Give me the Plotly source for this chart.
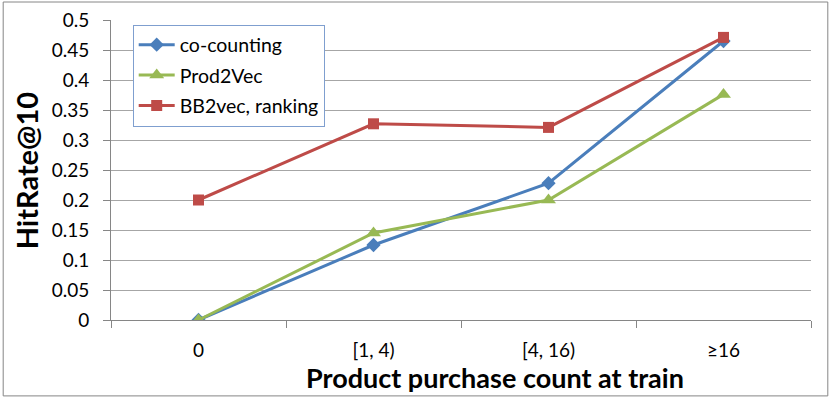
import plotly.graph_objects as go

# categories on x axis
buckets = ['0', '[1, 4)', '[4, 16)', '≥16']

# HitRate@10 per method
co_counting = [0.0, 0.125, 0.228, 0.465]
prod2vec = [0.0, 0.145, 0.200, 0.376]
bb2vec = [0.200, 0.327, 0.321, 0.471]

font_name = "Lato, 'Open Sans', sans-serif"

fig = go.Figure()
fig.add_trace(go.Scatter(x=buckets, y=co_counting, name='co-counting', mode='lines+markers',
                         legendgroup='a',
                         line=dict(color='#4A7EBB', width=3),
                         marker=dict(symbol='diamond', size=11, color='#4A7EBB')))
fig.add_trace(go.Scatter(x=buckets, y=prod2vec, name='Prod2Vec', mode='lines+markers',
                         legendgroup='b',
                         line=dict(color='#98B954', width=3),
                         marker=dict(symbol='triangle-up', size=13, color='#98B954')))
fig.add_trace(go.Scatter(x=buckets, y=bb2vec, name='BB2vec, ranking', mode='lines+markers',
                         legendgroup='c',
                         line=dict(color='#BE4B48', width=3),
                         marker=dict(symbol='square', size=11, color='#BE4B48')))

fig.update_layout(
    width=831, height=398,
    margin=dict(l=111, r=20, t=20, b=78),
    paper_bgcolor='white', plot_bgcolor='white',
    font=dict(family=font_name, size=19, color='black'),
    showlegend=True,
    legend=dict(x=0.031, y=0.985, xanchor='left', yanchor='top',
                bordercolor='#7F9FCF', borderwidth=1, bgcolor='white',
                font=dict(size=19.5), traceorder='grouped', tracegroupgap=2,
                itemwidth=36),
)

fig.update_xaxes(type='category', range=[-0.5, 3.5], tickson='boundaries', ticks='outside',
                 ticklen=7, tickcolor='#868686', showline=True, linecolor='#868686',
                 linewidth=1, showgrid=False, ticklabelstandoff=13, automargin=False)
fig.update_yaxes(range=[0, 0.5], dtick=0.05, ticks='outside', ticklen=7, tickcolor='#868686',
                 showline=True, linecolor='#868686', showgrid=True, gridcolor='#A6A6A6',
                 gridwidth=1, zeroline=False, ticklabelstandoff=10, automargin=False)

fig.add_annotation(text='<b>HitRate@10</b>', xref='paper', yref='paper',
                   x=-0.121, y=0.5, xanchor='center', yanchor='middle', textangle=-90,
                   showarrow=False, font=dict(size=29))
fig.add_annotation(text='<b>Product purchase count at train</b>', xref='paper', yref='paper',
                   x=0.549, y=-0.19, xanchor='center', yanchor='middle', showarrow=False,
                   font=dict(size=27))

# outer chart border
fig.add_shape(type='rect', xref='paper', yref='paper', x0=-0.154, x1=1.024, y0=-0.253, y1=1.06,
              line=dict(color='#868686', width=1), layer='below')

# drop the browser's default page margin so the figure sits at the top-left corner
fig.write_html("out.html", config={'displayModeBar': False},
               post_script="document.body.style.margin='0';")
